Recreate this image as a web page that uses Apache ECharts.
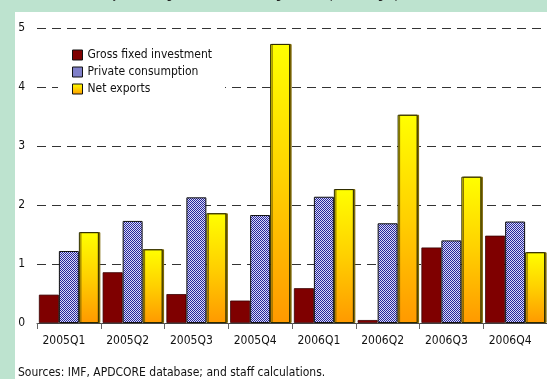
<!DOCTYPE html>
<html>
<head>
<meta charset="utf-8">
<script src="https://cdn.jsdelivr.net/npm/echarts@6/dist/echarts.min.js"></script>
<style>
  html, body { margin: 0; padding: 0; background: #bde3cf; }
  #wrap { position: absolute; left: 0; top: 0; width: 547px; height: 379px; }
  #panel { position: absolute; left: 15px; top: 12px; width: 532px; height: 367px; background: #ffffff; }
  #chart { position: absolute; left: 0; top: 0; width: 547px; height: 379px; }
</style>
</head>
<body>
<div id="wrap">
  <div id="panel"></div>
  <div id="chart"></div>
</div>
<script>
// Quarters on the category axis
const quarters = ['2005Q1', '2005Q2', '2005Q3', '2005Q4', '2006Q1', '2006Q2', '2006Q3', '2006Q4'];

// Contributions to growth, percentage points
const grossFixedInvestment = [0.48, 0.86, 0.49, 0.38, 0.59, 0.05, 1.28, 1.48];
const privateConsumption   = [1.22, 1.73, 2.13, 1.83, 2.14, 1.69, 1.40, 1.72];
const netExports           = [1.54, 1.25, 1.86, 4.73, 2.27, 3.53, 2.48, 1.20];

// Value axis ticks
const yTicks = [0, 1, 2, 3, 4, 5];

const sourceNote = 'Sources: IMF, APDCORE database; and staff calculations.';
const subtitle = '(Year-on-year change; contributions to growth in percentage points)';

// Prefer a narrow face when one is installed; otherwise use a slightly smaller regular sans
function pickFont() {
  const ctx = document.createElement('canvas').getContext('2d');
  const probe = 'Gross fixed investment 2005Q1';
  ctx.font = '40px monospace';
  const base = ctx.measureText(probe).width;
  const narrow = ['"Liberation Sans Narrow"', '"Arial Narrow"', '"DejaVu Sans Condensed"',
                  '"Roboto Condensed"', '"Open Sans Condensed"', '"Noto Sans Condensed"'];
  for (const f of narrow) {
    ctx.font = '40px ' + f + ', monospace';
    const w = ctx.measureText(probe).width;
    if (Math.abs(w - base) > 1) {
      // size the face so the legend's longest entry spans about 124px
      ctx.font = '100px ' + f;
      const longest = ctx.measureText('Gross fixed investment').width;
      const size = Math.max(11, Math.min(14, Math.round(124 / longest * 100 * 2) / 2));
      return { family: f + ', sans-serif', size: size };
    }
  }
  return { family: '"Liberation Sans", Arial, sans-serif', size: 12 };
}
const F = pickFont();
const FONT = F.family;
const FS = F.size;

// Fine blue dither used to fill the private consumption bars
function makeDither() {
  const c = document.createElement('canvas');
  c.width = 4; c.height = 4;
  const g = c.getContext('2d');
  for (let y = 0; y < 4; y++) {
    for (let x = 0; x < 4; x++) {
      g.fillStyle = ((x + y) % 2 === 0) ? '#26269a' : '#dadaf8';
      g.fillRect(x, y, 1, 1);
    }
  }
  return c;
}
const dither = makeDither();

const yellowFill = new echarts.graphic.LinearGradient(0, 0, 0, 1, [
  { offset: 0, color: '#ffff00' },
  { offset: 0.5, color: '#ffd000' },
  { offset: 1, color: '#ff9900' }
]);

const chart = echarts.init(document.getElementById('chart'), null, { renderer: 'canvas' });

chart.setOption({
  animation: false,
  backgroundColor: 'transparent',
  textStyle: { fontFamily: FONT },
  title: {
    text: subtitle,
    left: 60,
    top: -16,
    textStyle: { fontFamily: FONT, fontSize: FS, fontWeight: 'normal', color: '#222' }
  },
  grid: { left: 37, right: -15, top: 28, bottom: 56, containLabel: false },
  legend: {
    left: 58,
    top: 43,
    orient: 'vertical',
    backgroundColor: '#ffffff',
    padding: [6, 13, 6, 14],
    itemWidth: 10,
    itemHeight: 10,
    itemGap: 5,
    icon: 'rect',
    textStyle: { fontFamily: FONT, fontSize: FS, color: '#111' },
    itemStyle: { borderColor: '#111', borderWidth: 1 },
    data: ['Gross fixed investment', 'Private consumption', 'Net exports']
  },
  xAxis: {
    type: 'category',
    data: quarters,
    axisLine: { show: true, lineStyle: { color: '#444', width: 1 } },
    axisTick: { show: true, interval: 0, length: 6, lineStyle: { color: '#666', width: 1 } },
    axisLabel: { interval: 0, fontFamily: FONT, fontSize: FS, color: '#111', margin: 12, padding: [0, 10, 0, 0] },
    splitLine: { show: false }
  },
  yAxis: {
    type: 'value',
    min: yTicks[0],
    max: yTicks[yTicks.length - 1],
    interval: 1,
    axisLine: { show: false },
    axisTick: { show: false },
    axisLabel: { fontFamily: FONT, fontSize: FS, color: '#111', margin: 12 },
    splitLine: { show: true, lineStyle: { color: '#333', width: 1, type: [9, 6] } }
  },
  series: [
    {
      name: 'Gross fixed investment',
      type: 'bar',
      data: grossFixedInvestment,
      barGap: '0%',
      barCategoryGap: '6%',
      itemStyle: { color: '#7f0000', borderColor: '#3a0000', borderWidth: 0.8 }
    },
    {
      name: 'Private consumption',
      type: 'bar',
      data: privateConsumption,
      barGap: '0%',
      barCategoryGap: '6%',
      itemStyle: { color: { image: dither, repeat: 'repeat' }, borderColor: '#111', borderWidth: 1 }
    },
    {
      name: 'Net exports',
      type: 'bar',
      data: netExports,
      barGap: '0%',
      barCategoryGap: '6%',
      itemStyle: {
        color: yellowFill,
        borderColor: '#2a2a00',
        borderWidth: 1,
        shadowColor: '#7a6400',
        shadowOffsetX: 1.5,
        shadowOffsetY: 0,
        shadowBlur: 0
      }
    }
  ],
  graphic: [
    {
      type: 'text',
      left: 18,
      top: 367,
      style: { text: sourceNote, font: FS + 'px ' + FONT, fill: '#111' }
    }
  ]
});
</script>
</body>
</html>
